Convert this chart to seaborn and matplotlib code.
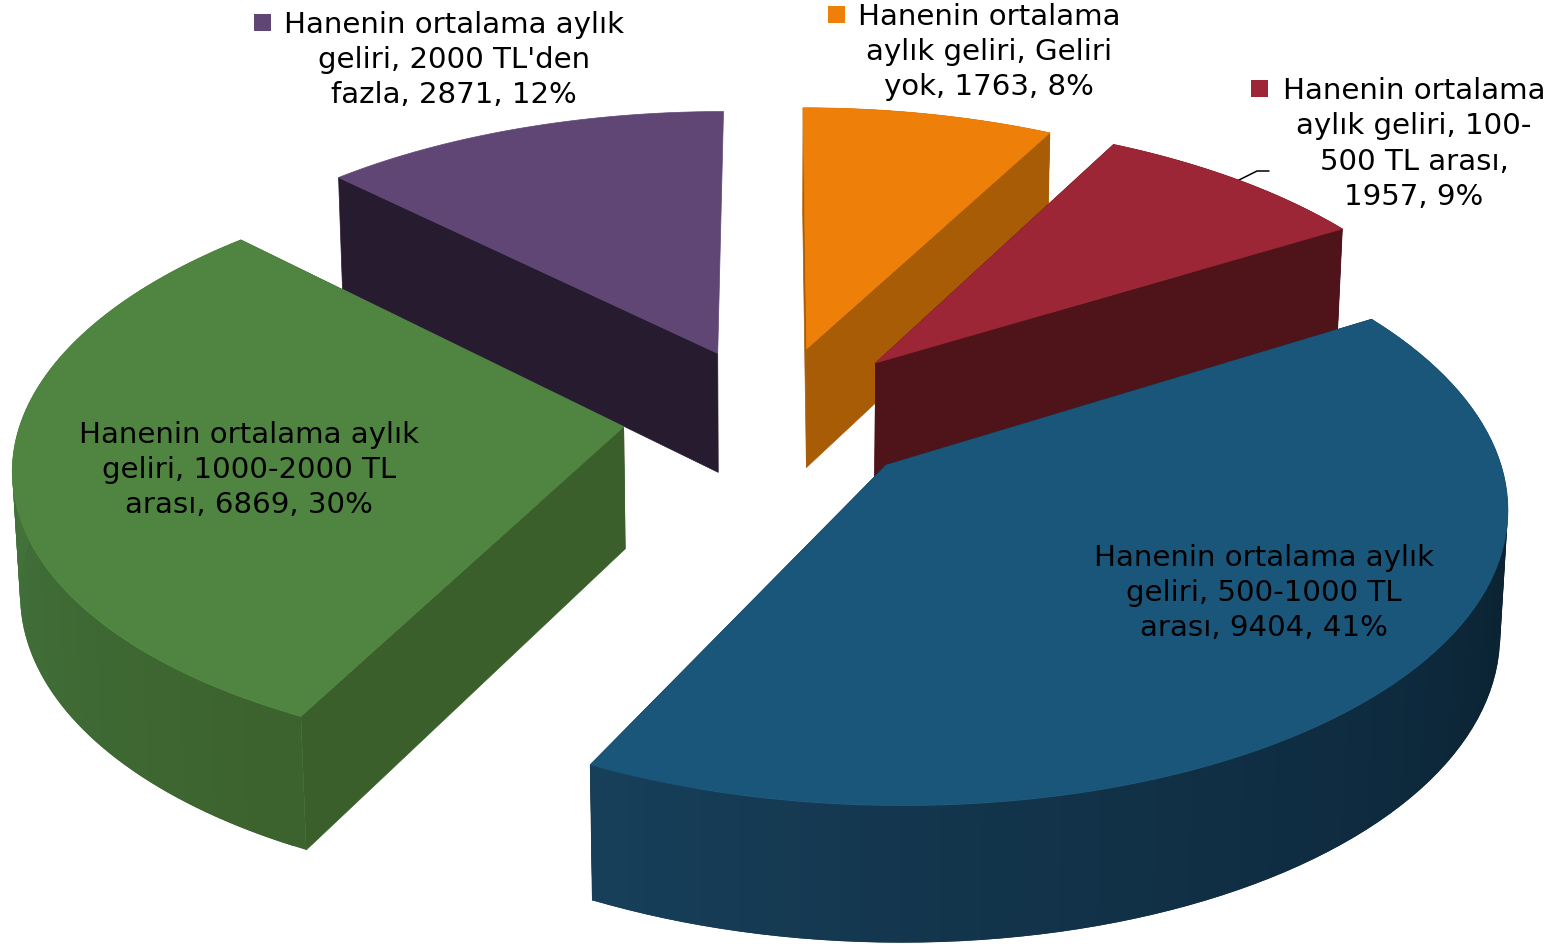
import numpy as np
import matplotlib
matplotlib.use("Agg")
import matplotlib.pyplot as plt
import seaborn as sns

labels = [["Hanenin ortalama", "aylık geliri, Geliri", "yok, 1763, 8%"],
          ["Hanenin ortalama", "aylık geliri, 100-", "500 TL arası,", "1957, 9%"],
          ["Hanenin ortalama aylık", "geliri, 500-1000 TL", "arası, 9404, 41%"],
          ["Hanenin ortalama aylık", "geliri, 1000-2000 TL", "arası, 6869, 30%"],
          ["Hanenin ortalama aylık", "geliri, 2000 TL'den", "fazla, 2871, 12%"]]
values = [1763, 1957, 9404, 6869, 2871]
top_colors = ["#EE7F09", "#9C2635", "#1A557A", "#4F8540", "#5F4675"]
side_colors = ["#A85C06", "#4F1419", "#0B2331", "#3A5F2B", "#261B2F"]
wall_colors = [["#A85C06", "#A85C06"], ["#4F1419", "#4F1419"],
               ["#0A202E", "#0A212F", "#0E2A3E", "#123349", "#173F5A"],
               ["#3C622D", "#41703A", "#4A7C3C"], ["#261B2F", "#261B2F"]]
text_pos = [(989, 52), (1414, 144), (1264, 593), (249, 470), (454, 60)]
key_pos = [(828, 7), (1251, 81), (1063, 549), (49, 427), (254, 15)]

# perspective of the 3d pie
cx, cy = 772.05, 416.35
sx, sy = 601.74, 285.62
tilt = 0.1223
depth = 122.81
shrink = 0.0102
explode = [0.2473, 0.2575, 0.2521, 0.2487, 0.2414]

ang = np.radians(np.cumsum([0] + values) / sum(values) * 360)


def proj(x, y, z):
    w = 1 + tilt * y - 0.0005 * x + shrink * z
    return cx + sx * x / w, cy - (sy * y - depth * z) / w


sns.set_theme(style="white")
fig, ax = plt.subplots(figsize=(15.6, 9.45), dpi=100)
fig.subplots_adjust(0, 0, 1, 1)
ax.set_xlim(0, 1560)
ax.set_ylim(945, 0)
ax.axis("off")

ax.plot([1235, 1257, 1269], [183, 172, 172], color="black", lw=1.1, zorder=0.5)

# back to front
for s in [4, 0, 1, 3, 2]:
    mid = (ang[s] + ang[s + 1]) / 2
    ox = explode[s] * np.sin(mid)
    oy = explode[s] * np.cos(mid)
    t = np.linspace(ang[s], ang[s + 1], 90)
    rx = ox + np.sin(t)
    ry = oy + np.cos(t)

    # the purple slice shows only its first cut face
    cuts = ang[s:s + 1] if s == 4 else ang[s:s + 2]
    for a in cuts:
        ex, ey = ox + np.sin(a), oy + np.cos(a)
        q = np.array([proj(ox, oy, 0), proj(ox, oy, 1), proj(ex, ey, 1), proj(ex, ey, 0)])
        ax.fill(q[:, 0], q[:, 1], color=side_colors[s], lw=0.5)

    # outer wall, each piece lapped by the next so no seams show
    if s != 4:
        shades = sns.blend_palette(wall_colors[s], len(t) - 1)
        for i in range(len(t) - 1):
            j = min(i + 2, len(t) - 1)
            q = np.array([proj(rx[i], ry[i], 0), proj(rx[j], ry[j], 0),
                          proj(rx[j], ry[j], 1), proj(rx[i], ry[i], 1)])
            ax.fill(q[:, 0], q[:, 1], color=shades[i], lw=0)

    tu, tv = proj(np.r_[ox, rx], np.r_[oy, ry], 0)
    ax.fill(tu, tv, color=top_colors[s], lw=0.5)

# labels with their legend keys
for s, lines in enumerate(labels):
    ax.text(text_pos[s][0], text_pos[s][1], "\n".join(lines), ha="center", va="center",
            fontsize=21.1, color="black", linespacing=1.32, family="DejaVu Sans", zorder=5)
    kx, ky = key_pos[s]
    ax.fill([kx, kx + 17, kx + 17, kx], [ky, ky, ky + 17, ky + 17], color=top_colors[s], lw=0, zorder=4)

fig.savefig("out.png", dpi=100)
